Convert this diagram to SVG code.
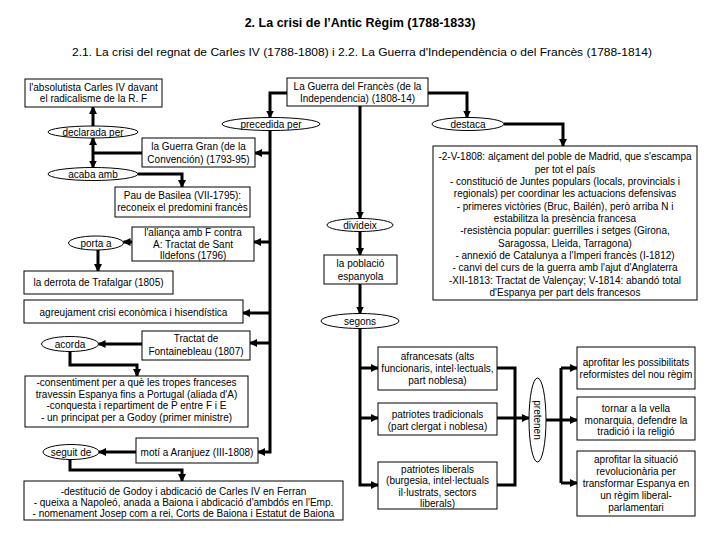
<svg xmlns="http://www.w3.org/2000/svg" width="720" height="540" viewBox="0 0 720 540">
<defs>
<style>
.box{fill:#fff;stroke:#000;stroke-width:1}
.t{font-family:"Liberation Sans",Arial,sans-serif;font-size:10px;text-anchor:middle;fill:#000}
.c{fill:none;stroke:#000;stroke-width:3}
.a{fill:none;stroke:#000;stroke-width:3;marker-end:url(#ar)}
</style>
<marker id="ar" markerUnits="userSpaceOnUse" markerWidth="8" markerHeight="8" refX="7" refY="4" orient="auto">
<path d="M0,0 L8,4 L0,8 z" fill="#000"/>
</marker>
</defs>
<rect width="720" height="540" fill="#fff"/>
<text x="360" y="27" class="t" style="font-size:12.5px;font-weight:bold">2. La crisi de l’Antic Règim (1788-1833)</text>
<text x="362" y="56" class="t" style="font-size:11.5px" textLength="580" lengthAdjust="spacingAndGlyphs">2.1. La crisi del regnat de Carles IV (1788-1808) i 2.2. La Guerra d'Independència o del Francès (1788-1814)</text>

<g id="connectors">
<path class="a" d="M287,93 H270 V117.5"/>
<path class="a" d="M428,93 H467 V117.5"/>
<path class="a" d="M504,124 H563 V146"/>
<path class="a" d="M360,106 V218.5"/>
<path class="a" d="M360,231.5 V255"/>
<path class="a" d="M360,284 V313.5"/>
<path class="a" d="M360,328.5 V485 H378"/>
<path class="a" d="M360,368 H378"/>
<path class="a" d="M360,418 H378"/>
<path class="c" d="M497,368 H515 V485 H497"/>
<path class="a" d="M497,418 H529"/>
<path class="a" d="M546,420 H577"/>
<path class="c" d="M561,368 V483"/>
<path class="a" d="M561,368 H577"/>
<path class="a" d="M561,483 H577"/>
<path class="a" d="M270,130.5 V452 H258"/>
<path class="a" d="M270,153 H255"/>
<path class="a" d="M270,242 H254"/>
<path class="a" d="M270,313 H243"/>
<path class="a" d="M270,343 H250"/>
<path class="a" d="M93,126 V107"/>
<path class="c" d="M142,153 H93"/>
<path class="a" d="M93,153 V138"/>
<path class="a" d="M93,153 V167.5"/>
<path class="a" d="M138,174 H182 V187"/>
<path class="a" d="M132,242 H123.5"/>
<path class="a" d="M98,250 V271"/>
<path class="a" d="M142,344 H98.5"/>
<path class="a" d="M70,351.5 V365 H137 V376"/>
<path class="a" d="M136,452 H99"/>
<path class="a" d="M70,459.5 V470 H182 V481"/>
</g>

<g id="absolutista">
<rect class="box" x="25" y="79" width="137" height="28"/>
<text class="t" x="93.5" y="90.5">l'absolutista Carles IV davant</text>
<text class="t" x="93.5" y="101.5">el radicalisme de la R. F</text>
</g>
<g id="guerra-frances">
<rect class="box" x="287" y="78" width="141" height="28"/>
<text class="t" x="357.5" y="89.5">La Guerra del Francès (de la</text>
<text class="t" x="357.5" y="101.5">Independencia) (1808-14)</text>
</g>
<g id="precedida">
<ellipse class="box" cx="271" cy="124" rx="49" ry="6.5"/>
<text class="t" x="271" y="127.5">precedida per</text>
</g>
<g id="destaca">
<ellipse class="box" cx="468" cy="124" rx="36" ry="6.5"/>
<text class="t" x="468" y="127.5">destaca</text>
</g>
<g id="declarada">
<ellipse class="box" cx="93" cy="132" rx="45" ry="6"/>
<text class="t" x="93" y="135.5">declarada per</text>
</g>
<g id="guerra-gran">
<rect class="box" x="142" y="138" width="113" height="29"/>
<text class="t" x="198.5" y="150">la Guerra Gran (de la</text>
<text class="t" x="198.5" y="162.5">Convención) (1793-95)</text>
</g>
<g id="acaba">
<ellipse class="box" cx="93" cy="174" rx="45" ry="6.5"/>
<text class="t" x="93" y="177.5">acaba amb</text>
</g>
<g id="pau">
<rect class="box" x="115" y="187" width="135" height="30"/>
<text class="t" x="182.5" y="198.5">Pau de Basilea (VII-1795):</text>
<text class="t" x="182.5" y="210.8">reconeix el predomini francès</text>
</g>
<g id="alianca">
<rect class="box" x="132" y="227" width="122" height="34"/>
<text class="t" x="193" y="236.2">l'aliança amb F contra</text>
<text class="t" x="193" y="247.5">A: Tractat de Sant</text>
<text class="t" x="193" y="258.5">Ildefons (1796)</text>
</g>
<g id="porta">
<ellipse class="box" cx="96" cy="243" rx="27.5" ry="7"/>
<text class="t" x="96" y="246.5">porta a</text>
</g>
<g id="trafalgar">
<rect class="box" x="24" y="271" width="149" height="23"/>
<text class="t" x="98.5" y="286">la derrota de Trafalgar (1805)</text>
</g>
<g id="agreujament">
<rect class="box" x="24" y="300" width="219" height="23"/>
<text class="t" x="133.5" y="315.5">agreujament crisi econòmica i hisendística</text>
</g>
<g id="fontainebleau">
<rect class="box" x="142" y="331" width="108" height="29"/>
<text class="t" x="196" y="342">Tractat de</text>
<text class="t" x="196" y="355">Fontainebleau (1807)</text>
</g>
<g id="acorda">
<ellipse class="box" cx="70" cy="344" rx="28.5" ry="7.5"/>
<text class="t" x="70" y="347.5">acorda</text>
</g>
<g id="consentiment">
<rect class="box" x="25" y="376" width="223" height="51"/>
<text class="t" x="136.5" y="386">-consentiment per a què les tropes franceses</text>
<text class="t" x="136.5" y="397.5">travessin Espanya fins a Portugal (aliada d'A)</text>
<text class="t" x="136.5" y="409">-conquesta i repartiment de P entre F i E</text>
<text class="t" x="136.5" y="420.5">- un principat per a Godoy (primer ministre)</text>
</g>
<g id="moti">
<rect class="box" x="136" y="438" width="122" height="25"/>
<text class="t" x="197" y="455.5">motí a Aranjuez (III-1808)</text>
</g>
<g id="seguit">
<ellipse class="box" cx="71" cy="452" rx="28" ry="7.5"/>
<text class="t" x="71" y="455.5">seguit de</text>
</g>
<g id="destitucio">
<rect class="box" x="24" y="481" width="319" height="39"/>
<text class="t" x="183.5" y="494.5">-destitució de Godoy i abdicació de Carles IV en Ferran</text>
<text class="t" x="183.5" y="505.8">- queixa a Napoleó, anada a Baiona i abdicació d'ambdós en l'Emp.</text>
<text class="t" x="183.5" y="516.8">- nomenament Josep com a rei, Corts de Baiona i Estatut de Baiona</text>
</g>
<g id="divideix">
<ellipse class="box" cx="360" cy="225" rx="33" ry="6.5"/>
<text class="t" x="360" y="228.5">divideix</text>
</g>
<g id="poblacio">
<rect class="box" x="324" y="255" width="73" height="29"/>
<text class="t" x="360.5" y="266.8">la població</text>
<text class="t" x="360.5" y="279.5">espanyola</text>
</g>
<g id="segons">
<ellipse class="box" cx="360" cy="321" rx="39" ry="7.5"/>
<text class="t" x="360" y="324.5">segons</text>
</g>
<g id="fets">
<rect class="box" x="433" y="146" width="264" height="154"/>
<text class="t" x="565" y="160.2">-2-V-1808: alçament del poble de Madrid, que s'escampa</text>
<text class="t" x="565" y="172.6">per tot el país</text>
<text class="t" x="565" y="184.9">- constitució de Juntes populars (locals, provincials i</text>
<text class="t" x="565" y="197.3">regionals) per coordinar les actuacions defensivas</text>
<text class="t" x="565" y="209.6">- primeres victòries (Bruc, Bailén), però arriba N i</text>
<text class="t" x="565" y="222">estabilitza la presència francesa</text>
<text class="t" x="565" y="234.4">-resistència popular: guerrilles i setges (Girona,</text>
<text class="t" x="565" y="246.7">Saragossa, Lleida, Tarragona)</text>
<text class="t" x="565" y="259.1">- annexió de Catalunya a l'Imperi francès (I-1812)</text>
<text class="t" x="565" y="271.4">- canvi del curs de la guerra amb l'ajut d'Anglaterra</text>
<text class="t" x="565" y="283.8">-XII-1813: Tractat de Valençay; V-1814: abandó total</text>
<text class="t" x="565" y="296.2">d'Espanya per part dels francesos</text>
</g>
<g id="afrancesats">
<rect class="box" x="378" y="347" width="119" height="43"/>
<text class="t" x="437.5" y="360.2">afrancesats (alts</text>
<text class="t" x="437.5" y="371.8">funcionaris, intel·lectuals,</text>
<text class="t" x="437.5" y="383.5">part noblesa)</text>
</g>
<g id="tradicionals">
<rect class="box" x="378" y="403" width="119" height="32"/>
<text class="t" x="437.5" y="417.5">patriotes tradicionals</text>
<text class="t" x="437.5" y="429.5">(part clergat i noblesa)</text>
</g>
<g id="liberals">
<rect class="box" x="378" y="462" width="119" height="47"/>
<text class="t" x="437.5" y="472.8">patriotes liberals</text>
<text class="t" x="437.5" y="484.2">(burgesia, intel·lectuals</text>
<text class="t" x="437.5" y="495.8">il·lustrats, sectors</text>
<text class="t" x="437.5" y="507.3">liberals)</text>
</g>
<g id="pretenen">
<ellipse class="box" cx="537.5" cy="420" rx="8.5" ry="42"/>
<text class="t" transform="translate(534,420) rotate(90)" x="0" y="0">pretenen</text>
</g>
<g id="reformistes">
<rect class="box" x="577" y="347" width="118" height="42"/>
<text class="t" x="636" y="365.8">aprofitar les possibilitats</text>
<text class="t" x="636" y="377.5">reformistes del nou règim</text>
</g>
<g id="tornar">
<rect class="box" x="577" y="397" width="118" height="43"/>
<text class="t" x="636" y="411.8">tornar a la vella</text>
<text class="t" x="636" y="423.5">monarquia, defendre la</text>
<text class="t" x="636" y="435.2">tradició i la religió</text>
</g>
<g id="revolucionaria">
<rect class="box" x="577" y="451" width="118" height="65"/>
<text class="t" x="636" y="462.8">aprofitar la situació</text>
<text class="t" x="636" y="475.2">revolucionària per</text>
<text class="t" x="636" y="486.8">transformar Espanya en</text>
<text class="t" x="636" y="499.2">un règim liberal-</text>
<text class="t" x="636" y="511.2">parlamentari</text>
</g>
</svg>
